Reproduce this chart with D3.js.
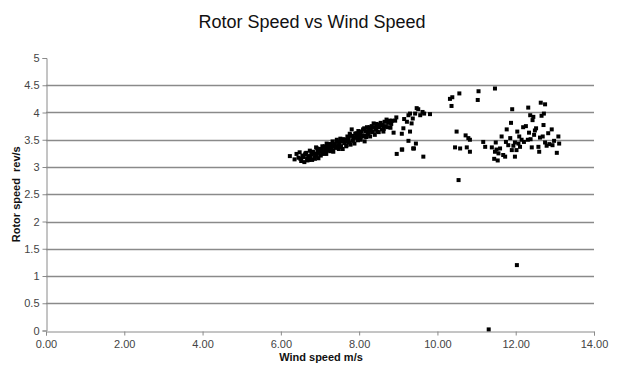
<!DOCTYPE html>
<html>
<head>
<meta charset="utf-8">
<script src="https://cdn.jsdelivr.net/npm/d3@7"></script>
<style>
  body { margin: 0; background: #fff; }
  svg text { font-family: "Liberation Sans", Arial, sans-serif; }
</style>
</head>
<body>
<div id="chart"></div>
<script>
// ---- data (wind speed m/s, rotor speed rev/s)
const windMain = [6.23, 6.35, 6.40, 6.45, 6.48, 6.52, 6.55, 6.58, 6.60, 6.62, 6.65, 6.67, 6.70, 6.72, 6.74, 6.76, 6.78, 6.80, 6.82, 6.84,
  6.86, 6.88, 6.90, 6.92, 6.94, 6.96, 6.98, 7.00, 7.02, 7.04, 7.06, 7.08, 7.10, 7.12, 7.14, 7.16, 7.18, 7.20, 7.22, 7.24,
  7.26, 7.28, 7.30, 7.32, 7.34, 7.36, 7.38, 7.40, 7.42, 7.44, 7.46, 7.48, 7.50, 7.52, 7.54, 7.56, 7.58, 7.60, 7.62, 7.64,
  7.66, 7.68, 7.70, 7.72, 7.74, 7.76, 7.78, 7.81, 7.82, 7.84, 7.86, 7.88, 7.90, 7.92, 7.94, 7.96, 7.98, 8.00, 8.02, 8.04,
  8.06, 8.08, 8.10, 8.12, 8.14, 8.16, 8.18, 8.20, 8.22, 8.24, 8.26, 8.28, 8.30, 8.32, 8.35, 8.38, 8.40, 8.42, 8.44, 8.46,
  8.48, 8.50, 8.52, 8.55, 8.58, 8.60, 8.62, 8.65, 8.68, 8.70, 8.72, 8.75, 8.78, 8.80, 8.84, 8.88, 8.92, 8.95, 8.96,
  6.50, 6.63, 6.68, 6.73, 6.79, 6.87, 6.93, 6.97, 7.01, 7.07, 7.13, 7.17, 7.23, 7.27, 7.33, 7.37, 7.43, 7.47, 7.53, 7.57,
  7.63, 7.67, 7.73, 7.77, 7.83, 7.87, 7.93, 7.97, 8.03, 8.07, 8.13, 8.17, 8.23, 8.27, 8.33, 8.37, 8.43, 8.53, 8.63, 8.73, 8.82];
const rotorMain = [3.20, 3.14, 3.24, 3.17, 3.27, 3.11, 3.21, 3.18, 3.09, 3.23, 3.26, 3.15, 3.19, 3.13, 3.30, 3.18, 3.24, 3.13, 3.28, 3.25,
  3.18, 3.24, 3.36, 3.21, 3.29, 3.16, 3.33, 3.28, 3.21, 3.33, 3.38, 3.28, 3.25, 3.38, 3.31, 3.24, 3.38, 3.35, 3.31, 3.42,
  3.29, 3.38, 3.35, 3.47, 3.28, 3.42, 3.38, 3.35, 3.47, 3.38, 3.46, 3.33, 3.43, 3.52, 3.38, 3.47, 3.33, 3.51, 3.44, 3.50,
  3.47, 3.40, 3.56, 3.51, 3.45, 3.61, 3.41, 3.69, 3.57, 3.49, 3.54, 3.43, 3.61, 3.54, 3.59, 3.50, 3.66, 3.54, 3.60, 3.50,
  3.65, 3.57, 3.69, 3.56, 3.47, 3.65, 3.55, 3.73, 3.64, 3.60, 3.72, 3.56, 3.68, 3.75, 3.65, 3.73, 3.59, 3.71, 3.79, 3.65,
  3.75, 3.64, 3.73, 3.81, 3.69, 3.77, 3.65, 3.83, 3.75, 3.87, 3.73, 3.81, 3.85, 3.72, 3.85, 3.63, 3.85, 3.91, 3.24,
  3.15, 3.25, 3.12, 3.20, 3.25, 3.15, 3.34, 3.26, 3.31, 3.24, 3.32, 3.43, 3.31, 3.42, 3.30, 3.41, 3.50, 3.39, 3.37, 3.50,
  3.48, 3.38, 3.54, 3.59, 3.48, 3.54, 3.62, 3.49, 3.62, 3.58, 3.71, 3.57, 3.66, 3.73, 3.64, 3.80, 3.69, 3.78, 3.70, 3.83, 3.79];

const windMid = [9.09, 9.13, 9.15, 9.22, 9.26, 9.30, 9.34, 9.37, 9.43, 9.51, 9.56, 9.62, 9.66, 9.81, 9.30, 9.26, 9.45, 9.40, 9.09, 9.64,
  9.10, 9.47, 9.38,
  10.32, 10.38, 10.36, 10.56, 11.05, 11.03, 11.47, 10.49, 10.45, 10.58, 10.54, 10.72, 10.79, 10.83, 10.75, 10.83, 11.17, 11.22];
const rotorMid = [3.61, 3.71, 3.88, 3.83, 3.95, 3.98, 3.80, 3.89, 3.98, 4.06, 3.95, 4.01, 3.98, 3.97, 3.65, 3.48, 3.43, 3.34, 3.32, 3.19,
  3.32, 4.08, 3.34,
  4.25, 4.28, 4.12, 4.35, 4.39, 4.23, 4.44, 3.65, 3.36, 3.34, 2.76, 3.58, 3.53, 3.50, 3.36, 3.28, 3.46, 3.37];

const windHigh = [11.49, 11.39, 11.47, 11.51, 11.56, 11.45, 11.54, 11.60, 11.64, 11.68, 11.73, 11.77, 11.75, 11.81, 11.86, 11.88, 11.91, 11.90, 11.94, 11.98,
  11.98, 12.02, 12.04, 12.07, 12.09, 12.11, 12.15, 12.19, 12.21, 12.26, 12.31, 12.32, 12.34, 12.37, 12.38, 12.41, 12.43, 12.45, 12.47, 12.49,
  12.52, 12.58, 12.60, 12.64, 12.66, 12.71, 12.69, 12.72, 12.75, 12.75, 12.79, 12.83, 12.86, 12.92, 12.94, 12.98, 13.05, 13.09, 13.11, 12.62,
  12.03, 11.31];
const rotorHigh = [3.45, 3.36, 3.28, 3.32, 3.25, 3.15, 3.12, 3.34, 3.56, 3.22, 3.19, 3.69, 3.46, 3.40, 3.53, 3.81, 4.06, 3.31, 3.39, 3.19,
  3.45, 3.31, 3.65, 3.43, 3.56, 3.37, 3.50, 3.73, 3.46, 3.75, 3.50, 4.09, 3.63, 3.95, 3.51, 3.36, 3.86, 3.92, 3.59, 3.67,
  3.71, 3.37, 3.28, 4.18, 3.94, 3.77, 3.56, 3.98, 4.15, 3.45, 3.39, 3.62, 3.42, 3.69, 3.40, 3.48, 3.26, 3.56, 3.43, 3.54,
  1.20, 0.02];

const xTicks = [0, 2, 4, 6, 8, 10, 12, 14];
const yTicks = [0, 0.5, 1, 1.5, 2, 2.5, 3, 3.5, 4, 4.5, 5];
const gridTicks = [0.5, 1, 1.5, 2, 2.5, 3, 3.5, 4, 4.5];

//-----------------------------------
const width = 622, height = 374;
const margin = { top: 58, right: 28, bottom: 43.5, left: 46 };

const points = [];
function addPoints(xs, ys) {
  for (let i = 0; i < xs.length; i++) points.push({ x: xs[i], y: ys[i] });
}
addPoints(windMain, rotorMain);
addPoints(windMid, rotorMid);
addPoints(windHigh, rotorHigh);

const svg = d3.select("#chart").append("svg")
  .attr("width", width)
  .attr("height", height);

const x = d3.scaleLinear().domain([0, 14]).range([margin.left, width - margin.right]);
const y = d3.scaleLinear().domain([0, 5]).range([height - margin.bottom, margin.top]);

// gridlines
svg.append("g")
  .selectAll("line")
  .data(gridTicks)
  .join("line")
  .attr("x1", x(0))
  .attr("x2", x(14))
  .attr("y1", d => Math.round(y(d)) + 0.5)
  .attr("y2", d => Math.round(y(d)) + 0.5)
  .attr("stroke", "#8a8a8a")
  .attr("stroke-width", 1.3);

// x axis
const xAxis = svg.append("g")
  .attr("transform", `translate(0,${Math.round(y(0)) + 0.5})`)
  .call(d3.axisBottom(x).tickValues(xTicks).tickFormat(d3.format(".2f")).tickSize(4).tickPadding(5));

// y axis
const yAxis = svg.append("g")
  .attr("transform", `translate(${Math.round(x(0)) + 0.5},0)`)
  .call(d3.axisLeft(y).tickValues(yTicks).tickFormat(d => d).tickSize(4).tickPadding(3));

[xAxis, yAxis].forEach(g => {
  g.select(".domain").attr("stroke", "#8a8a8a");
  g.selectAll(".tick line").attr("stroke", "#8a8a8a");
  g.selectAll(".tick text")
    .attr("fill", "#444")
    .style("font-size", "11px")
    .style("font-family", "'Liberation Sans', Arial, sans-serif");
});

// markers
const sz = 4;
svg.append("g")
  .selectAll("rect")
  .data(points)
  .join("rect")
  .attr("x", d => x(d.x) - sz / 2)
  .attr("y", d => y(d.y) - sz / 2)
  .attr("width", sz)
  .attr("height", sz)
  .attr("fill", "#000");

// title
svg.append("text")
  .attr("x", 312)
  .attr("y", 28)
  .attr("text-anchor", "middle")
  .style("font-size", "18px")
  .attr("fill", "#111")
  .text("Rotor Speed vs Wind Speed");

// axis labels
svg.append("text")
  .attr("x", 321)
  .attr("y", 361)
  .attr("text-anchor", "middle")
  .style("font-size", "11px")
  .style("font-weight", "bold")
  .attr("fill", "#111")
  .text("Wind speed m/s");

svg.append("text")
  .attr("transform", `translate(20,${(y(0) + y(5)) / 2}) rotate(-90)`)
  .attr("text-anchor", "middle")
  .style("font-size", "11px")
  .style("font-weight", "bold")
  .style("white-space", "pre")
  .attr("fill", "#111")
  .text("Rotor speed  rev/s");
</script>
</body>
</html>
